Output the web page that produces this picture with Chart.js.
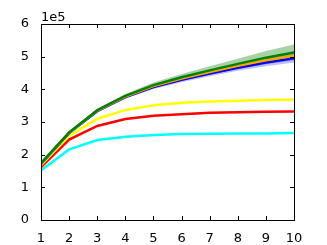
<!DOCTYPE html>
<html>
<head>
<meta charset="utf-8">
<script src="https://cdn.jsdelivr.net/npm/chart.js@4"></script>
<style>
  html, body { margin: 0; padding: 0; background: #fff; }
  canvas { display: block; }
</style>
</head>
<body>
<canvas id="chart" width="327" height="245"></canvas>
<script>
// x categories (runs 1..10)
const steps = [1, 2, 3, 4, 5, 6, 7, 8, 9, 10];

// mean curves, raw units (axis shows them scaled by 1e5)
const cyanVals   = [152000, 216000, 245000, 255000, 260000, 263000, 264000, 265000, 265000, 266000];
const redVals    = [162000, 246000, 288000, 309000, 319000, 324000, 328000, 330000, 331000, 332000];
const yellowVals = [168000, 258000, 310000, 337000, 351000, 359000, 363000, 365000, 367000, 369000];
const greenVals  = [174000, 268000, 336000, 380000, 413000, 437000, 458000, 478000, 497000, 513000];
const orangeVals = [173000, 267000, 335000, 378000, 410000, 433000, 453000, 472000, 489000, 503000];
const blueVals   = [172000, 266000, 333000, 376000, 407000, 429000, 448000, 466000, 482000, 495000];

// half widths of the shaded bands
const greenSpread  = [1000, 3000, 5000, 6000, 8000, 10000, 13000, 16000, 20000, 24000];
const orangeSpread = [1000, 2000, 3000, 4000, 5000, 5000, 6000, 7000, 7000, 8000];
const blueSpread   = [1000, 2000, 4000, 5000, 6000, 7000, 8000, 9000, 11000, 13000];

const yTicks = [0, 1, 2, 3, 4, 5, 6];
const yScaleExp = 1e5;

const pts = vals => steps.map((x, i) => ({ x, y: vals[i] }));
const band = (vals, sp, sign) => steps.map((x, i) => ({ x, y: vals[i] + sign * sp[i] }));

function line(data, color, order) {
  return { data: pts(data), borderColor: color, borderWidth: 2.5, pointRadius: 0, fill: false, order };
}
function bandPair(vals, sp, color, order) {
  return [
    { data: band(vals, sp, 1), borderWidth: 0, borderColor: 'transparent', backgroundColor: color,
      pointRadius: 0, fill: '+1', order },
    { data: band(vals, sp, -1), borderWidth: 0, borderColor: 'transparent', pointRadius: 0, fill: false, order }
  ];
}

// frame, inward tick marks on all four sides and the "1e5" offset text
const mplFrame = {
  id: 'mplFrame',
  afterDraw(chart) {
    const { ctx, chartArea: a, scales } = chart;
    const L = Math.round(a.left), R = Math.round(a.right);
    const T = Math.round(a.top), B = Math.round(a.bottom);
    ctx.save();
    ctx.fillStyle = '#000';
    ctx.fillRect(L, T, R - L + 1, 1);
    ctx.fillRect(L, B, R - L + 1, 1);
    ctx.fillRect(L, T, 1, B - T + 1);
    ctx.fillRect(R, T, 1, B - T + 1);
    for (const v of steps) {
      const px = Math.round(scales.x.getPixelForValue(v));
      ctx.fillRect(px, B - 4, 1, 4);
      ctx.fillRect(px, T, 1, 4);
    }
    for (const t of yTicks) {
      const py = Math.round(scales.y.getPixelForValue(t * yScaleExp));
      ctx.fillRect(L, py, 4, 1);
      ctx.fillRect(R - 4, py, 4, 1);
    }
    ctx.font = '13px "DejaVu Sans"';
    ctx.textAlign = 'left';
    ctx.textBaseline = 'alphabetic';
    ctx.fillText('1e5', L, T - 3);
    ctx.restore();
  }
};

const frameBorder = { display: true, color: '#000', width: 1 };

new Chart(document.getElementById('chart'), {
  type: 'line',
  data: {
    datasets: [
      line(cyanVals, '#00ffff', 9),
      line(redVals, '#ff0000', 8),
      line(yellowVals, '#ffff00', 7),
      ...bandPair(greenVals, greenSpread, 'rgba(0,128,0,0.35)', 6),
      ...bandPair(orangeVals, orangeSpread, 'rgba(255,165,0,0.35)', 5),
      ...bandPair(blueVals, blueSpread, 'rgba(0,0,255,0.25)', 4),
      line(blueVals, '#0000ff', 3),
      line(orangeVals, '#ffa500', 2),
      line(greenVals, '#008000', 1)
    ]
  },
  options: {
    responsive: false,
    animation: false,
    events: [],
    layout: { padding: { top: 24, right: 33, left: 0, bottom: 0 } },
    plugins: { legend: { display: false }, tooltip: { enabled: false } },
    scales: {
      x: {
        type: 'linear', min: 1, max: 10,
        afterFit(s) { s.height = 25; },
        grid: { display: false },
        border: frameBorder,
        ticks: {
          stepSize: 1, padding: 3, color: '#000',
          font: { family: 'DejaVu Sans', size: 13 },
          maxRotation: 0, autoSkip: false
        }
      },
      y: {
        min: 0, max: 6 * yScaleExp,
        afterFit(s) { s.width = 41; },
        grid: { display: false },
        border: frameBorder,
        ticks: {
          stepSize: yScaleExp, padding: 4, color: '#000',
          font: { family: 'DejaVu Sans', size: 13 },
          callback: v => v / yScaleExp
        }
      }
    }
  },
  plugins: [mplFrame]
});
</script>
</body>
</html>
